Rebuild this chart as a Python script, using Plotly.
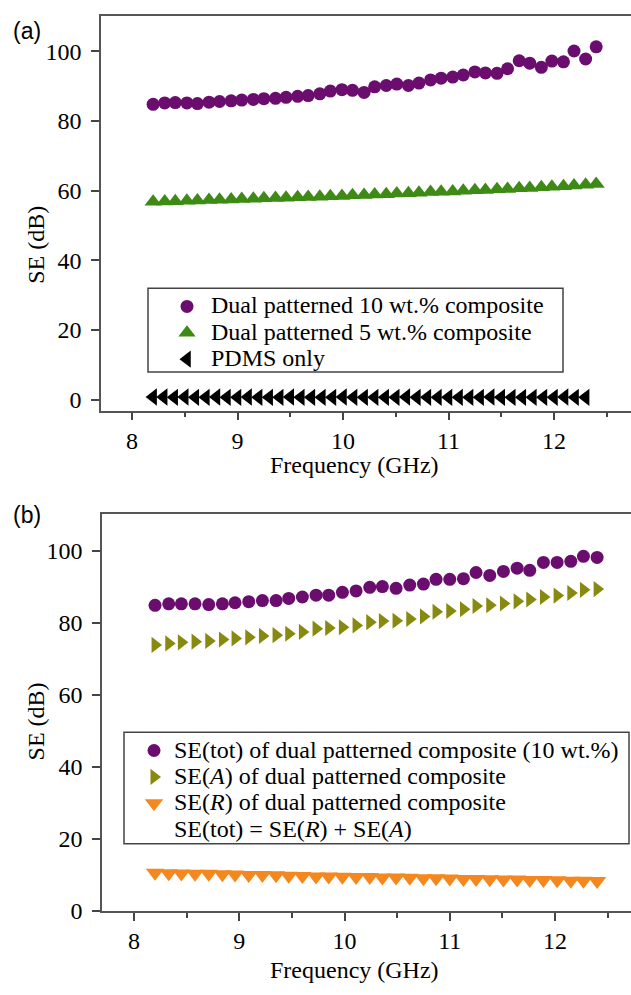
import plotly.graph_objects as go

# ---------------- data: panel (a) ----------------
freq_a = [8.20, 8.31, 8.41, 8.52, 8.62, 8.73, 8.83, 8.94, 9.04, 9.15, 9.25, 9.36, 9.46, 9.57,
          9.67, 9.78, 9.88, 9.99, 10.09, 10.20, 10.30, 10.41, 10.51, 10.62, 10.72, 10.83, 10.93,
          11.04, 11.14, 11.25, 11.35, 11.46, 11.56, 11.67, 11.77, 11.88, 11.98, 12.09, 12.19,
          12.30, 12.40]
se_10wt = [84.8, 85.2, 85.3, 85.2, 85.0, 85.4, 85.6, 85.8, 86.0, 86.2, 86.4, 86.5, 86.8, 87.1,
           87.3, 87.8, 88.6, 89.0, 88.8, 88.2, 89.8, 90.2, 90.6, 90.2, 90.9, 91.8, 92.3,
           92.6, 93.2, 94.1, 93.8, 93.7, 95.0, 97.3, 96.6, 95.4, 97.2, 97.0, 100.1,
           97.8, 101.3]
se_5wt = [56.8, 56.9, 57.0, 57.1, 57.2, 57.3, 57.4, 57.5, 57.6, 57.7, 57.8, 57.9, 58.0, 58.1,
          58.2, 58.3, 58.4, 58.5, 58.7, 58.8, 58.9, 59.0, 59.2, 59.3, 59.4, 59.6, 59.7,
          59.8, 60.0, 60.1, 60.2, 60.4, 60.5, 60.7, 60.8, 61.0, 61.1, 61.3, 61.5,
          61.7, 61.9]
freq_pdms = [8.2, 8.3, 8.4, 8.5, 8.6, 8.7, 8.8, 8.9, 9.0, 9.1, 9.2, 9.3, 9.4, 9.5, 9.6, 9.7,
             9.8, 9.9, 10.0, 10.1, 10.2, 10.3, 10.4, 10.5, 10.6, 10.7, 10.8, 10.9, 11.0, 11.1,
             11.2, 11.3, 11.4, 11.5, 11.6, 11.7, 11.8, 11.9, 12.0, 12.1, 12.2, 12.3]
se_pdms = [0.8, 0.8, 0.7, 0.8, 0.7, 0.7, 0.8, 0.7, 0.7, 0.8, 0.7, 0.7, 0.7, 0.8, 0.7, 0.7,
           0.7, 0.7, 0.8, 0.7, 0.7, 0.7, 0.7, 0.7, 0.8, 0.7, 0.7, 0.7, 0.7, 0.7,
           0.7, 0.7, 0.8, 0.7, 0.7, 0.7, 0.7, 0.7, 0.7, 0.8, 0.7, 0.7]

# ---------------- data: panel (b) ----------------
freq_b = [8.20, 8.33, 8.45, 8.58, 8.71, 8.84, 8.96, 9.09, 9.22, 9.35, 9.47, 9.60, 9.73, 9.85,
          9.98, 10.11, 10.24, 10.36, 10.49, 10.62, 10.75, 10.87, 11.00, 11.13, 11.25, 11.38,
          11.51, 11.64, 11.76, 11.89, 12.02, 12.15, 12.27, 12.40]
se_tot = [84.9, 85.3, 85.3, 85.3, 85.1, 85.3, 85.6, 85.9, 86.2, 86.2, 86.8, 87.2, 87.7, 87.7,
          88.5, 88.9, 89.9, 90.1, 89.6, 90.5, 90.8, 92.1, 92.1, 92.3, 94.0, 93.2, 94.3, 95.2,
          94.6, 96.8, 96.8, 97.1, 98.5, 98.2]
se_A = [73.9, 74.3, 74.6, 74.8, 75.0, 75.4, 75.7, 76.0, 76.4, 76.6, 77.0, 77.5, 78.4, 78.6,
        78.8, 79.3, 80.2, 80.5, 80.6, 81.1, 81.8, 83.1, 83.3, 83.8, 84.7, 84.9, 85.4, 86.0,
        86.5, 87.2, 87.6, 88.3, 89.2, 89.4]
se_R = [10.6, 10.5, 10.4, 10.3, 10.3, 10.2, 10.1, 10.0, 10.0, 9.9, 9.8, 9.7, 9.6, 9.6,
        9.5, 9.4, 9.4, 9.3, 9.3, 9.2, 9.1, 9.1, 9.0, 8.9, 8.9, 8.8, 8.7, 8.7, 8.6, 8.6,
        8.5, 8.4, 8.4, 8.3]

y_ticks = [0, 20, 40, 60, 80, 100]
x_ticks = [8, 9, 10, 11, 12]

PURPLE = "#6a0d6e"
GREEN = "#3d8b14"
OLIVE = "#878a0f"
ORANGE = "#f5871f"
SERIF = "Liberation Serif"
FS = 24
W, H = 631, 995


def lg(text):
    # legend label drawn at full text size while rows stay tightly spaced
    return '<span style="font-size:%dpx">%s</span>' % (FS, text)


fig = go.Figure()

fig.add_trace(go.Scatter(x=freq_a, y=se_10wt, mode="markers", name=lg("Dual patterned 10 wt.% composite"),
                         marker=dict(symbol="circle", size=13, color=PURPLE), xaxis="x", yaxis="y",
                         legend="legend"))
fig.add_trace(go.Scatter(x=freq_a, y=se_5wt, mode="markers", name=lg("Dual patterned 5 wt.% composite"),
                         marker=dict(symbol="triangle-up", size=15, color=GREEN), xaxis="x", yaxis="y",
                         legend="legend"))
fig.add_trace(go.Scatter(x=freq_pdms, y=se_pdms, mode="markers", name=lg("PDMS only"),
                         marker=dict(symbol="triangle-left", size=15, color="black"), xaxis="x", yaxis="y",
                         legend="legend"))

fig.add_trace(go.Scatter(x=freq_b, y=se_tot, mode="markers",
                         name=lg("SE(tot) of dual patterned composite (10 wt.%)"),
                         marker=dict(symbol="circle", size=13, color=PURPLE), xaxis="x2", yaxis="y2",
                         legend="legend2"))
fig.add_trace(go.Scatter(x=freq_b, y=se_A, mode="markers",
                         name=lg("SE(<i>A</i>) of dual patterned composite"),
                         marker=dict(symbol="triangle-right", size=14, color=OLIVE), xaxis="x2", yaxis="y2",
                         legend="legend2"))
fig.add_trace(go.Scatter(x=freq_b, y=se_R, mode="markers",
                         name=lg("SE(<i>R</i>) of dual patterned composite"),
                         marker=dict(symbol="triangle-down", size=16, color=ORANGE), xaxis="x2", yaxis="y2",
                         legend="legend2"))
fig.add_trace(go.Scatter(x=[None], y=[None], mode="markers",
                         name=lg("SE(tot) = SE(<i>R</i>) + SE(<i>A</i>)"),
                         marker=dict(size=1, color="rgba(0,0,0,0)"), xaxis="x2", yaxis="y2",
                         legend="legend2"))


def xax(domain, rng, anchor):
    return dict(domain=domain, range=rng, anchor=anchor, tickvals=x_ticks,
                ticks="outside", ticklen=8, tickwidth=1.5, tickcolor="#444",
                minor=dict(dtick=0.5, tick0=8, ticks="outside", ticklen=5, tickwidth=1.5, tickcolor="#444"),
                showline=True, linecolor="#555", linewidth=1.5, mirror=True,
                showgrid=False, zeroline=False,
                tickfont=dict(family=SERIF, size=FS, color="black"))


def yax(domain, rng, anchor):
    return dict(domain=domain, range=rng, anchor=anchor, tickvals=y_ticks,
                ticks="outside", ticklen=8, tickwidth=1.5, tickcolor="#444",
                showline=True, linecolor="#555", linewidth=1.5, mirror=False,
                showgrid=False, zeroline=False, ticklabelstandoff=5,
                tickfont=dict(family=SERIF, size=FS, color="black"))


legend_common = dict(xanchor="left", yanchor="top", borderwidth=0,
                     bgcolor="rgba(0,0,0,0)", font=dict(family=SERIF, size=18, color="black"),
                     tracegroupgap=0)


def px_x(v):
    return v / W


def px_y(v):
    return 1 - v / H


def title_ann(text, x, y, angle=0):
    return dict(text=text, x=px_x(x), y=px_y(y), xref="paper", yref="paper",
                xanchor="center", yanchor="middle", textangle=angle, showarrow=False,
                font=dict(family=SERIF, size=FS, color="black"))


box_line = dict(color="#444", width=1.5)

fig.update_layout(
    width=W, height=H, autosize=False,
    margin=dict(l=0, r=0, t=0, b=0),
    paper_bgcolor="white", plot_bgcolor="white",
    showlegend=True,
    xaxis=xax([101 / W, 1], [7.706, 12.73], "y"),
    yaxis=yax([1 - 416 / H, 1 - 16 / H], [-3.1, 110.2], "x"),
    xaxis2=xax([102 / W, 1], [7.696, 12.722], "y2"),
    yaxis2=yax([1 - 923 / H, 1 - 521 / H], [0, 110.2], "x2"),
    legend=dict(x=px_x(163), y=px_y(292), itemwidth=38, **legend_common),
    legend2=dict(x=px_x(134), y=px_y(742), itemwidth=30, **legend_common),
    shapes=[
        dict(type="rect", xref="paper", yref="paper", x0=px_x(148), x1=px_x(563),
             y0=px_y(377), y1=px_y(292), line=box_line, fillcolor="rgba(0,0,0,0)"),
        dict(type="rect", xref="paper", yref="paper", x0=px_x(124), x1=px_x(629),
             y0=px_y(855), y1=px_y(742), line=box_line, fillcolor="rgba(0,0,0,0)"),
    ],
    annotations=[
        dict(text="(a)", x=px_x(11), y=px_y(31), xref="paper", yref="paper", xanchor="left", yanchor="middle",
             showarrow=False, font=dict(family="Liberation Sans", size=23, color="black")),
        dict(text="(b)", x=px_x(11), y=px_y(522), xref="paper", yref="paper", xanchor="left", yanchor="middle",
             showarrow=False, font=dict(family="Liberation Sans", size=23, color="black")),
        title_ann("SE (dB)", 36, 248, -90),
        title_ann("SE (dB)", 36, 731, -90),
        title_ann("Frequency (GHz)", 354, 471),
        title_ann("Frequency (GHz)", 354, 983),
    ],
)

fig.write_html("out.html", config={"displayModeBar": False},
               post_script="document.body.style.margin='0';")
